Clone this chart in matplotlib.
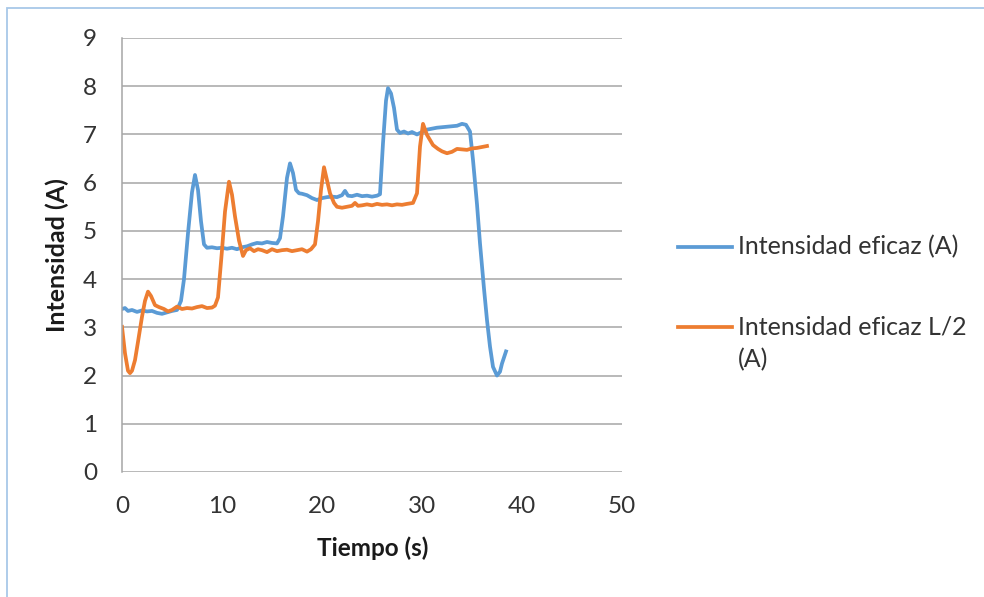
import matplotlib
matplotlib.use("Agg")
import matplotlib.pyplot as plt
from matplotlib.lines import Line2D
from matplotlib.patches import Rectangle

# RMS current measurements over time (s, A)
t_rms = [0.0, 0.3, 0.6, 1.0, 1.5, 2.0, 2.5, 3.0, 3.5, 4.0, 4.5, 5.0, 5.5, 5.9,
         6.2, 6.6, 7.0, 7.3, 7.6, 7.9, 8.2, 8.5, 9.0, 9.5, 10.0, 10.5, 11.0,
         11.5, 12.0, 12.5, 13.0, 13.5, 14.0, 14.5, 15.0, 15.5, 15.8, 16.1,
         16.5, 16.8, 17.1, 17.4, 17.7, 18.0, 18.5, 19.0, 19.5, 20.0, 20.5,
         21.0, 21.5, 22.0, 22.3, 22.6, 23.0, 23.5, 24.0, 24.5, 25.0, 25.5,
         25.8, 26.1, 26.4, 26.6, 26.9, 27.2, 27.5, 27.8, 28.2, 28.6, 29.0,
         29.5, 30.0, 30.5, 31.0, 31.5, 32.0, 32.5, 33.0, 33.5, 34.0, 34.4,
         34.8, 35.1, 35.5, 35.8, 36.2, 36.5, 36.8, 37.1, 37.5, 37.8, 38.0, 38.4]
i_rms = [3.38, 3.40, 3.34, 3.36, 3.32, 3.35, 3.33, 3.34, 3.30, 3.28, 3.31, 3.34,
         3.36, 3.55, 4.00, 4.95, 5.80, 6.16, 5.85, 5.20, 4.72, 4.65, 4.66, 4.64,
         4.65, 4.63, 4.65, 4.62, 4.66, 4.68, 4.72, 4.75, 4.74, 4.77, 4.75, 4.74,
         4.85, 5.30, 6.10, 6.40, 6.20, 5.85, 5.78, 5.77, 5.74, 5.68, 5.64, 5.68,
         5.70, 5.71, 5.70, 5.74, 5.83, 5.73, 5.72, 5.75, 5.72, 5.73, 5.71, 5.73,
         5.76, 6.82, 7.70, 7.96, 7.85, 7.55, 7.10, 7.03, 7.06, 7.02, 7.05, 7.00,
         7.05, 7.10, 7.12, 7.14, 7.15, 7.16, 7.17, 7.18, 7.22, 7.20, 7.06, 6.47,
         5.55, 4.74, 3.80, 3.15, 2.60, 2.18, 2.00, 2.08, 2.25, 2.50]

# RMS current at L/2 over time (s, A)
t_half = [0.0, 0.3, 0.6, 0.8, 1.0, 1.3, 1.6, 2.0, 2.3, 2.6, 2.9, 3.3, 3.7, 4.2,
          4.6, 5.0, 5.5, 6.0, 6.5, 7.0, 7.5, 8.0, 8.5, 9.0, 9.3, 9.6, 10.0,
          10.3, 10.7, 11.0, 11.3, 11.7, 12.1, 12.4, 12.8, 13.2, 13.6, 14.0,
          14.5, 15.0, 15.5, 16.0, 16.5, 17.0, 17.5, 18.0, 18.5, 18.9, 19.3,
          19.6, 19.9, 20.2, 20.5, 20.8, 21.2, 21.5, 22.0, 22.5, 23.0, 23.3,
          23.6, 24.0, 24.5, 25.0, 25.5, 26.0, 26.5, 27.0, 27.5, 28.0, 28.5,
          29.1, 29.5, 29.8, 30.1, 30.5, 31.1, 31.6, 32.0, 32.5, 33.0, 33.5,
          34.0, 34.5, 35.0, 35.5, 36.0, 36.5]
i_half = [3.01, 2.46, 2.10, 2.05, 2.10, 2.32, 2.70, 3.22, 3.55, 3.74, 3.65, 3.46,
          3.42, 3.38, 3.33, 3.36, 3.43, 3.38, 3.40, 3.39, 3.42, 3.44, 3.40, 3.41,
          3.45, 3.62, 4.60, 5.40, 6.02, 5.75, 5.30, 4.80, 4.48, 4.60, 4.64, 4.58,
          4.62, 4.60, 4.56, 4.62, 4.58, 4.60, 4.61, 4.58, 4.60, 4.62, 4.57, 4.62,
          4.72, 5.20, 5.85, 6.32, 6.05, 5.78, 5.58, 5.50, 5.48, 5.50, 5.52, 5.58,
          5.52, 5.53, 5.55, 5.53, 5.56, 5.54, 5.55, 5.53, 5.55, 5.54, 5.56, 5.58,
          5.78, 6.75, 7.22, 6.99, 6.78, 6.70, 6.65, 6.61, 6.64, 6.70, 6.69, 6.68,
          6.71, 6.72, 6.74, 6.76]

series_labels = ["Intensidad eficaz (A)", "Intensidad eficaz L/2\n(A)"]
x_ticks = [0, 10, 20, 30, 40, 50]
y_ticks = [0, 1, 2, 3, 4, 5, 6, 7, 8, 9]

BLUE = "#5B9BD5"
ORANGE = "#ED7D31"
GRID = "#A6A6A6"
TEXT = "#333333"
FONT = "Lato"

W, H = 984, 597
fig = plt.figure(figsize=(W / 100, H / 100), dpi=100)
fig.patch.set_facecolor("white")

# thin chart-area frame
fig.add_artist(Rectangle((6.5 / W, -0.1), 1.2, 1.1 - 8 / H, transform=fig.transFigure,
                         fill=False, edgecolor="#A8C8E8", linewidth=1.3))

ax = fig.add_axes([122 / W, 1 - 472 / H, 500 / W, (472 - 38) / H])
ax.plot(t_rms, i_rms, color=BLUE, linewidth=2.7, solid_joinstyle="round")
ax.plot(t_half, i_half, color=ORANGE, linewidth=2.7, solid_joinstyle="round")

ax.set_xlim(x_ticks[0], x_ticks[-1])
ax.set_ylim(y_ticks[0], y_ticks[-1])
ax.set_xticks(x_ticks)
ax.set_yticks(y_ticks)
ax.tick_params(length=0, labelsize=17.5, colors=TEXT)
ax.tick_params(axis="y", pad=18)
ax.tick_params(axis="x", pad=17)
for lab in ax.get_xticklabels() + ax.get_yticklabels():
    lab.set_family(FONT)

ax.grid(axis="y", color=GRID, linewidth=1.1)
ax.set_axisbelow(True)
for side in ("top", "right", "bottom"):
    ax.spines[side].set_visible(False)
ax.spines["left"].set_color(GRID)
ax.spines["left"].set_linewidth(1.1)

ax.set_xlabel("Tiempo (s)", fontsize=17.5, fontweight="bold", family=FONT, color="#1a1a1a")
ax.set_ylabel("Intensidad (A)", fontsize=18, fontweight="bold", family=FONT, color="#1a1a1a")
ax.xaxis.set_label_coords(0.502, -0.148)
ax.yaxis.set_label_coords(-0.106, 0.5)

# legend on the right
legend_rows = [(247, BLUE, series_labels[0]), (327, ORANGE, series_labels[1])]
for ypx, col, text in legend_rows:
    yf = 1 - ypx / H
    fig.add_artist(Line2D([678 / W, 732 / W], [yf, yf], transform=fig.transFigure,
                          color=col, linewidth=2.7))
    first, *rest = text.split("\n")
    fig.text(738 / W, yf, first, fontsize=18, family=FONT, color=TEXT,
             va="center", ha="left")
    for k, extra in enumerate(rest, start=1):
        fig.text(738 / W, 1 - (ypx + 33 * k) / H, extra, fontsize=18, family=FONT,
                 color=TEXT, va="center", ha="left")

fig.savefig("out.png", dpi=100, facecolor="white")
